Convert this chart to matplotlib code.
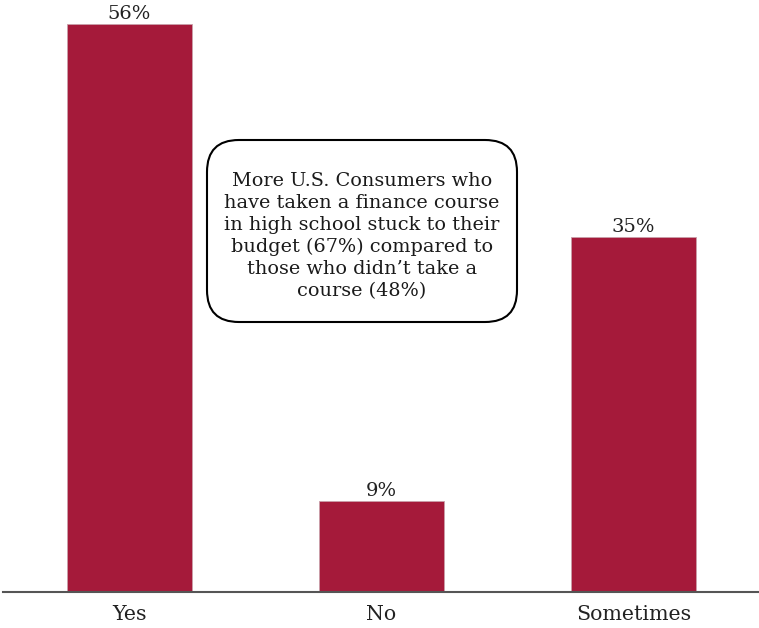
import matplotlib
matplotlib.use("Agg")
import matplotlib.pyplot as plt
from matplotlib.patches import FancyBboxPatch

categories = ["Yes", "No", "Sometimes"]
values = [56, 9, 35]
value_labels = ["56%", "9%", "35%"]
note = ("More U.S. Consumers who\nhave taken a finance course\n"
        "in high school stuck to their\nbudget (67%) compared to\n"
        "those who didn\u2019t take a\ncourse (48%)")

bar_color = "#A51A3A"
serif = ["DejaVu Serif"]

fig = plt.figure(figsize=(7.59, 6.28), dpi=100)
ax = fig.add_axes([3 / 759, 36 / 628, 756 / 759, 592 / 628])

x = range(len(categories))
bars = ax.bar(x, values, width=0.496, color=bar_color,
              edgecolor="#c9a0aa", linewidth=0.6, zorder=2)

for b, lab in zip(bars, value_labels):
    ax.text(b.get_x() + b.get_width() / 2, b.get_height() + 0.1, lab,
            ha="center", va="bottom", fontsize=14, family=serif,
            color="#222222")

ax.set_xlim(-0.502, 2.498)
ax.set_ylim(0, 58.4)
ax.set_xticks(list(x))
ax.set_xticklabels(categories, fontsize=14.8, family=serif, color="#222222")
ax.tick_params(axis="x", length=0, pad=9)
ax.set_yticks([])
for s in ["top", "right", "left"]:
    ax.spines[s].set_visible(False)
ax.spines["bottom"].set_color("#555555")
ax.spines["bottom"].set_linewidth(1.5)

# rounded callout box (figure pixel coordinates converted to fractions)
W, H = 759, 628
bx0, by0, bx1, by1 = 207, 140, 517, 322
box = FancyBboxPatch((bx0 / W, 1 - by1 / H), (bx1 - bx0) / W, (by1 - by0) / H,
                     boxstyle="round,pad=0,rounding_size=0.042",
                     transform=fig.transFigure, facecolor="white",
                     edgecolor="black", linewidth=1.5, zorder=5,
                     mutation_aspect=W / H)
fig.patches.append(box)
fig.text((bx0 + bx1) / 2 / W, 1 - 236 / H, note, ha="center", va="center",
         fontsize=13.9, family=serif, color="#1a1a1a", linespacing=1.29,
         zorder=6)

fig.savefig("out.png", dpi=100)
